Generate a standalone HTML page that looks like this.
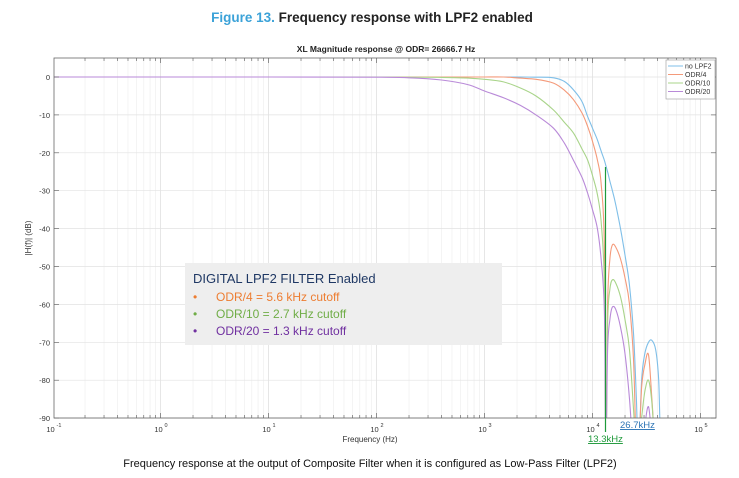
<!DOCTYPE html>
<html><head><meta charset="utf-8"><style>
body{margin:0;background:#fff;width:739px;height:478px;overflow:hidden;font-family:"Liberation Sans",sans-serif}
svg{position:absolute;left:0;top:0}
</style></head><body>
<svg width="739" height="478">
<text x="372" y="22" text-anchor="middle" font-size="13.5" font-weight="bold" fill="#222"><tspan fill="#3ba2d8">Figure 13.</tspan> Frequency response with LPF2 enabled</text>
<text x="386" y="52" text-anchor="middle" font-size="8.5" font-weight="bold" fill="#222">XL Magnitude response @ ODR= 26666.7 Hz</text>
<g id="grid"></g>
<defs><clipPath id="clip"><rect x="54" y="58" width="662" height="360"/></clipPath></defs>
<g id="series" clip-path="url(#clip)"></g>
<g id="axes"></g>
<text x="370" y="442" text-anchor="middle" font-size="8" fill="#333">Frequency (Hz)</text>
<text transform="translate(31,238) rotate(-90)" text-anchor="middle" font-size="8" fill="#333">|H(f)| (dB)</text>
<rect x="185" y="263" width="317" height="82" fill="#eeeeee"/>
<text x="193" y="283" font-size="13" fill="#1f3864">DIGITAL LPF2 FILTER Enabled</text>
<text x="193" y="301" font-size="12" fill="#ed7d31">•<tspan x="216">ODR/4 = 5.6 kHz cutoff</tspan></text>
<text x="193" y="318" font-size="12" fill="#70ad47">•<tspan x="216">ODR/10 = 2.7 kHz cutoff</tspan></text>
<text x="193" y="335" font-size="12" fill="#7030a0">•<tspan x="216">ODR/20 = 1.3 kHz cutoff</tspan></text>
<line x1="605.5" y1="167" x2="605.5" y2="432" stroke="#1e9a3a" stroke-width="1.2"/>
<text x="620" y="428" font-size="9.5" fill="#2e75b6" text-decoration="underline">26.7kHz</text>
<text x="588" y="442" font-size="9.5" fill="#1e9a3a" text-decoration="underline">13.3kHz</text>
<g>
<rect x="666" y="60" width="49" height="39" fill="#fff" stroke="#999" stroke-width="0.6"/>
<g id="legend-items"></g>
</g>
<text x="370" y="467" text-anchor="middle" font-size="11" fill="#111">Frequency response at the output of Composite Filter when it is configured as Low-Pass Filter (LPF2)</text>
</svg>
<script>
const freqs=[0.1,1,10,100,200,400,700,1000,1500,2150,3000,4350,5500,6670,8000,9000,10000,11100,12000,12900,13300,13800,14500,15300,16500,18150,20000,22000,24000,25500,26700,28500,30500,33000,35500,38500,41000,43500,50000,140000];
const noLpf2=[0,0,0,0,0,0,0,0,0,0,-0.05,-0.2,-1.2,-3.4,-6.5,-10.4,-13.5,-16.6,-19.5,-22,-23.4,-25,-27.5,-30,-34,-40,-47,-55,-68,-85,-100,-80,-73,-70,-69.5,-72,-80,-100,-100,-100];
const odr4=[0,0,0,0,0,0,0,0,0,-0.3,-0.6,-1.6,-3.5,-6,-9.5,-13,-17,-21.9,-28,-45,-100,-60,-48,-44.3,-45,-48,-53,-60,-75,-100,-100,-82,-76,-73.3,-85,-100,-100,-100,-100,-100];
const odr10=[0,0,0,0,-0.05,-0.1,-0.3,-0.6,-1.3,-2.9,-5,-8.7,-12,-14.8,-19,-21.9,-26,-31,-38,-55,-100,-65,-56,-53.5,-54.5,-58,-64,-72,-88,-100,-100,-90,-83,-80,-86,-100,-100,-100,-100,-100];
const odr20=[0,0,0,-0.05,-0.2,-0.8,-2,-3.7,-5.5,-7.5,-10,-13.5,-17.5,-22,-26.5,-30.6,-35,-40,-48,-62,-100,-72,-64,-60.7,-61.5,-66,-73,-85,-100,-100,-100,-100,-92,-87,-95,-100,-100,-100,-100,-100];
const seriesNames=["no LPF2","ODR/4","ODR/10","ODR/20"];
const seriesColors=["#7fbfe8","#f49a7a","#a9d48a","#b98ad8"];
const xTicks=[-1,0,1,2,3,4,5];
const yTicks=[0,-10,-20,-30,-40,-50,-60,-70,-80,-90];
const L=54,R=716,T=58,B=418;
const xs=f=>160.5+108*Math.log10(f);
const ys=d=>77+(0-d)*37.9/10;
const NS="http://www.w3.org/2000/svg";
function mk(tag,attrs,parent){const e=document.createElementNS(NS,tag);for(const k in attrs)e.setAttribute(k,attrs[k]);parent.appendChild(e);return e;}
const grid=document.getElementById('grid'),axes=document.getElementById('axes');
for(let d=-1;d<=5;d++){for(let m=1;m<10;m++){const x=xs(m*Math.pow(10,d));if(x<L||x>R)continue;
 const g=mk('line',{x1:x,x2:x,y1:T,y2:B,stroke:m==1?'#dcdcdc':'#efefef','stroke-width':0.7},grid);
 
 
 const tl=m==1?5:3;
 const t1=mk('line',{x1:x,x2:x,y1:B,y2:B-tl,stroke:'#555','stroke-width':0.6},axes);
 
 
 const t2=mk('line',{x1:x,x2:x,y1:T,y2:T+tl,stroke:'#555','stroke-width':0.6},axes);
 
 }}
for(const v of yTicks){const y=ys(v);
 const g=mk('line',{x1:L,x2:R,y1:y,y2:y,stroke:'#e2e2e2','stroke-width':0.7},grid);
 
 
 for(const xx of [[L,L+5],[R,R-5]]){const t=mk('line',{x1:xx[0],x2:xx[1],y1:y,y2:y,stroke:'#555','stroke-width':0.6},axes);
 
 }
 const lb=mk('text',{x:L-4,y:y+3,'text-anchor':'end','font-size':7.5,fill:'#333'},axes);lb.textContent=v;
 
 }
for(const e of xTicks){const x=xs(Math.pow(10,e));
 const lb=mk('text',{x:x-2,y:432,'text-anchor':'middle','font-size':7.5,fill:'#333'},axes);lb.textContent='10';
 
 
 const s=mk('text',{x:x+4,y:427,'font-size':5.5,fill:'#333'},axes);s.textContent=e;
 
 }
const fr=mk('rect',{x:L,y:T,width:R-L,height:B-T,fill:'none',stroke:'#666','stroke-width':0.8},axes);


function smoothPath(P){let d='M'+P[0][0].toFixed(1)+','+P[0][1].toFixed(1);
 for(let i=0;i<P.length-1;i++){const p0=P[Math.max(0,i-1)],p1=P[i],p2=P[i+1],p3=P[Math.min(P.length-1,i+2)];
  const c1=[p1[0]+(p2[0]-p0[0])/6,p1[1]+(p2[1]-p0[1])/6],c2=[p2[0]-(p3[0]-p1[0])/6,p2[1]-(p3[1]-p1[1])/6];
  d+='C'+c1.map(v=>v.toFixed(1)).join(',')+' '+c2.map(v=>v.toFixed(1)).join(',')+' '+p2[0].toFixed(1)+','+p2[1].toFixed(1);}
 return d;}
const sg=document.getElementById('series');
const data=[noLpf2,odr4,odr10,odr20];
const keys=['no-lpf2','odr-4','odr-10','odr-20'];
data.forEach((arr,i)=>{
 const P=freqs.map((f,j)=>[xs(f),ys(arr[j])]);
 const p=mk('path',{d:smoothPath(P),fill:'none',stroke:seriesColors[i],'stroke-width':1.1,'stroke-linejoin':'round'},sg);
 
 
});
const li=document.getElementById('legend-items');
seriesNames.forEach((n,i)=>{const y=66+i*8.5;
 const l=mk('line',{x1:668,x2:683,y1:y,y2:y,stroke:seriesColors[i],'stroke-width':1},li);
 
 
 const t=mk('text',{x:685,y:y+2.5,'font-size':7,fill:'#333'},li);t.textContent=n;
 
 });
</script>
</body></html>
